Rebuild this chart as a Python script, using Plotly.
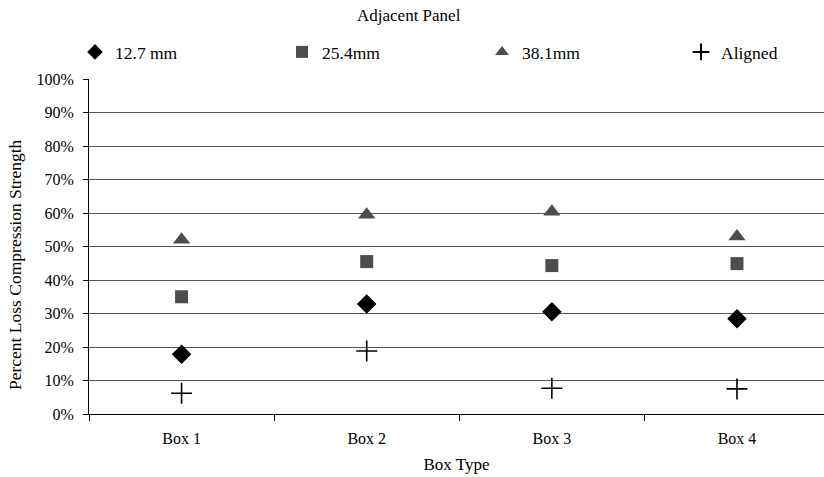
import plotly.graph_objects as go

categories = ["Box 1", "Box 2", "Box 3", "Box 4"]
s_127 = [0.178, 0.328, 0.305, 0.284]
s_254 = [0.350, 0.455, 0.443, 0.449]
s_381 = [0.520, 0.595, 0.604, 0.530]
s_aligned = [0.062, 0.188, 0.077, 0.075]

FONT = "Liberation Serif"
fig = go.Figure()
fig.add_trace(go.Scatter(x=categories, y=s_127, mode="markers", name="12.7 mm", legend="legend",
                         marker=dict(symbol="diamond", size=15, color="#000000")))
fig.add_trace(go.Scatter(x=categories, y=s_254, mode="markers", name="25.4mm", legend="legend2",
                         marker=dict(symbol="square", size=13, color="#4d4d4d")))
fig.add_trace(go.Scatter(x=categories, y=s_381, mode="markers", name="38.1mm", legend="legend3",
                         marker=dict(symbol="triangle-up", size=15, color="#4d4d4d")))
fig.add_trace(go.Scatter(x=categories, y=s_aligned, mode="markers", name="Aligned", legend="legend4",
                         marker=dict(symbol="cross-thin", size=15, color="#000000",
                                     line=dict(color="#000000", width=1.6))))

W, H = 824, 477
L, T, B = 89, 79, 63
PW, PH = W - L, H - T - B


def leg(px):
    return dict(orientation="h", x=(px - L) / PW, xanchor="left", y=(H - B - 52) / PH,
                yanchor="middle", itemsizing="constant", itemwidth=30,
                font=dict(family=FONT, size=17.5, color="#000000"), bgcolor="rgba(0,0,0,0)")


fig.update_layout(
    width=W, height=H,
    margin=dict(l=L, r=0, t=T, b=B),
    paper_bgcolor="white", plot_bgcolor="white",
    font=dict(family=FONT, size=16, color="#000000"),
    title=dict(text="Adjacent Panel", x=0.496, xref="container", xanchor="center",
               y=1 - 15 / H, yref="container", yanchor="middle",
               font=dict(family=FONT, size=17, color="#000000")),
    showlegend=True,
    legend=leg(75),
    legend2=leg(282),
    legend3=leg(482),
    legend4=leg(681),
    xaxis=dict(type="category", range=[-0.5, 3.47], tickson="boundaries", ticks="outside",
               ticklen=6, tickcolor="#000000", showline=True, linecolor="#000000", linewidth=1,
               showgrid=False, zeroline=False, ticklabelstandoff=10,
               title=dict(text="Box Type", font=dict(family=FONT, size=17), standoff=11),
               tickfont=dict(family=FONT, size=16)),
    yaxis=dict(range=[0, 1.0], tickmode="linear", tick0=0, dtick=0.1, tickformat=".0%",
               ticks="outside", ticklen=5, tickcolor="#000000", showline=True,
               linecolor="#000000", linewidth=1, showgrid=True, gridcolor="#555555",
               gridwidth=1, zeroline=False, ticklabelstandoff=6,
               tickfont=dict(family=FONT, size=16)),
    annotations=[dict(text="Percent Loss Compression Strength", textangle=-90,
                      xref="paper", yref="paper", x=(15 - L) / PW, y=(H - B - 265) / PH,
                      xanchor="center", yanchor="middle", showarrow=False,
                      font=dict(family=FONT, size=17.5, color="#000000"))],
)

fig.write_html("out.html")
